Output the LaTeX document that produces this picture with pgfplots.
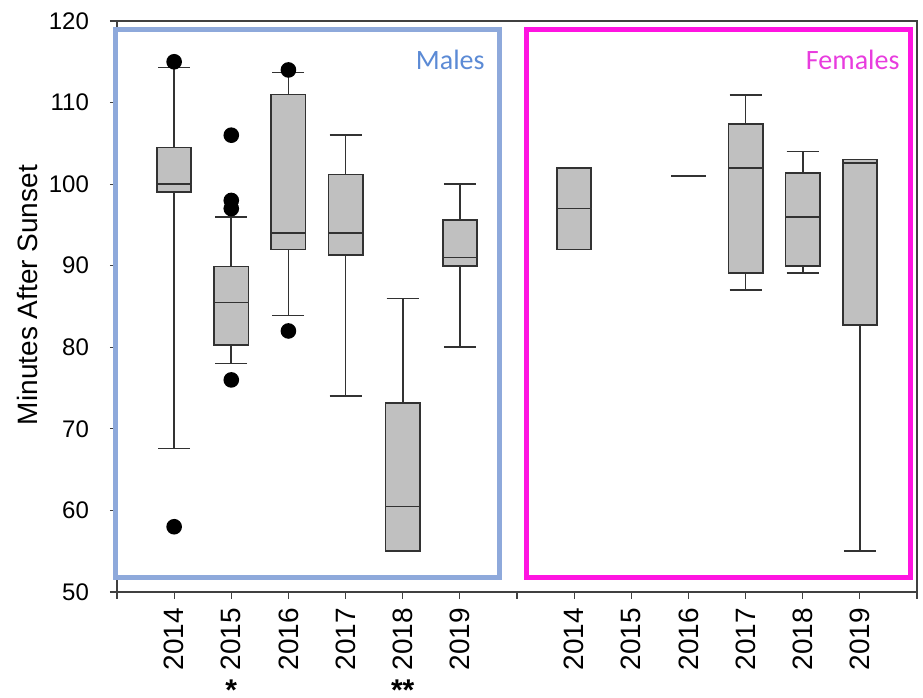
\documentclass[border=0pt]{standalone}
\usepackage{fontspec}
\setmainfont{Liberation Sans}
\newfontfamily\carlito{Carlito}
\usepackage{pgfplots}
\pgfplotsset{compat=1.18}
\usepgfplotslibrary{statistics}
\definecolor{boxgray}{RGB}{192,192,192}
\definecolor{boxedge}{RGB}{50,50,50}
\definecolor{mblue}{RGB}{142,169,219}
\definecolor{mbluetext}{RGB}{91,138,213}
\definecolor{fpink}{RGB}{255,20,225}
\definecolor{fpinktext}{RGB}{232,60,222}
\pgfplotsset{
  bx/.style={
    solid, draw=boxedge, fill=boxgray, line width=0.8pt,
    mark=*, mark size=3.5pt, mark options={fill=black, draw=black},
    boxplot/draw direction=y,
    boxplot/box extend=0.6,
    boxplot/whisker extend=0.56,
  }
}
\begin{document}
\begin{tikzpicture}
\begin{axis}[
  scale only axis, width=400pt, height=285.5pt,
  xmin=0, xmax=14, ymin=50, ymax=120,
  xtick={0,...,14},
  xticklabels={,2014,2015,2016,2017,2018,2019,,2014,2015,2016,2017,2018,2019,},
  ytick={50,60,...,120},
  tick align=outside, xtick pos=bottom, ytick pos=left,
  major tick length=3.5pt,
  axis line style={draw=black!75, line width=0.6pt},
  tick style={draw=black!75, line width=0.6pt},
  /pgf/number format/assume math mode=true,
  yticklabel style={font=\fontsize{12}{14}\selectfont, xshift=-7pt},
  xticklabel style={font=\fontsize{14}{16}\selectfont, rotate=90, anchor=east, xshift=-1pt},
  ylabel={Minutes After Sunset},
  ylabel style={font=\fontsize{14}{16}\selectfont, at={(axis description cs:-0.1125,0.52)}, anchor=center},
  clip=false,
]
% Males
\addplot+[bx, boxplot prepared={draw position=1, median=100, upper quartile=104.5, lower quartile=99, upper whisker=114.3, lower whisker=67.6}] table[row sep=\\, y index=0] {y\\115\\58\\};
\addplot+[bx, boxplot prepared={draw position=2, median=85.5, upper quartile=89.9, lower quartile=80.3, upper whisker=96, lower whisker=78}] table[row sep=\\, y index=0] {y\\106\\98\\97\\76\\};
\addplot+[bx, boxplot prepared={draw position=3, median=94, upper quartile=111, lower quartile=92, upper whisker=113.7, lower whisker=83.9}] table[row sep=\\, y index=0] {y\\114\\82\\};
\addplot+[bx, boxplot prepared={draw position=4, median=94, upper quartile=101.2, lower quartile=91.3, upper whisker=106, lower whisker=74}] coordinates {};
\addplot+[bx, boxplot prepared={draw position=5, median=60.5, upper quartile=73.2, lower quartile=55, upper whisker=86, lower whisker=55}] coordinates {};
\addplot+[bx, boxplot prepared={draw position=6, median=91, upper quartile=95.6, lower quartile=90, upper whisker=100, lower whisker=80}] coordinates {};
% Females
\addplot+[bx, boxplot prepared={draw position=8, median=97, upper quartile=102, lower quartile=92, upper whisker=102, lower whisker=92}] coordinates {};
\addplot+[bx, boxplot prepared={draw position=10, median=101, upper quartile=101, lower quartile=101, upper whisker=101, lower whisker=101}] coordinates {};
\addplot+[bx, boxplot prepared={draw position=11, median=102, upper quartile=107.4, lower quartile=89.1, upper whisker=110.9, lower whisker=87}] coordinates {};
\addplot+[bx, boxplot prepared={draw position=12, median=96, upper quartile=101.4, lower quartile=90, upper whisker=104, lower whisker=89.1}] coordinates {};
\addplot+[bx, boxplot prepared={draw position=13, median=102.6, upper quartile=103, lower quartile=82.7, upper whisker=103, lower whisker=55}] coordinates {};
% colored frames
\draw[mblue, line width=2.5pt] (axis cs:-0.02,51.8) rectangle (axis cs:6.69,119.0);
\draw[fpink, line width=2.5pt] (axis cs:7.16,51.8) rectangle (axis cs:13.88,119.0);
\node[anchor=east, text=mbluetext, font=\carlito\fontsize{14}{16}\selectfont, inner sep=0pt] at (axis cs:6.44,115.2) {Males};
\node[anchor=east, text=fpinktext, font=\carlito\fontsize{14}{16}\selectfont, inner sep=0pt] at (axis cs:13.70,115.2) {Females};
% asterisks
\node[anchor=north, inner sep=0pt, font=\bfseries\fontsize{15}{17}\selectfont] at ([yshift=-43pt]axis cs:2,50) {\raisebox{-0.44em}[0.28em][0pt]{*}};
\node[anchor=north, inner sep=0pt, font=\bfseries\fontsize{15}{17}\selectfont] at ([yshift=-43pt]axis cs:5,50) {\raisebox{-0.44em}[0.28em][0pt]{**}};
\end{axis}
\pgfresetboundingbox
\path ([shift={(-58.5pt,-53pt)}]current axis.south west) rectangle ([shift={(3pt,10.5pt)}]current axis.north east);
\end{tikzpicture}
\end{document}
